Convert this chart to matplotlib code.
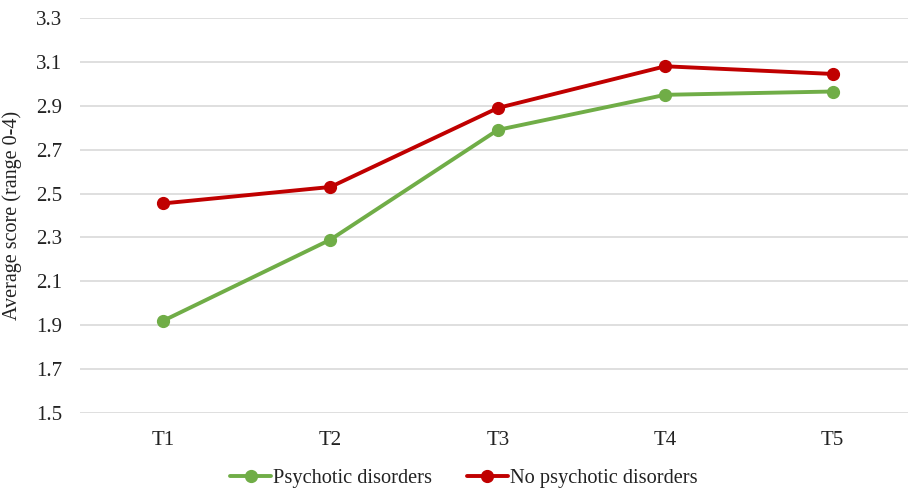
import matplotlib
matplotlib.use("Agg")
import matplotlib.pyplot as plt

categories = ["T1", "T2", "T3", "T4", "T5"]
psychotic = [1.92, 2.29, 2.79, 2.95, 2.965]
no_psychotic = [2.455, 2.53, 2.89, 3.08, 3.045]
yticks = [1.5, 1.7, 1.9, 2.1, 2.3, 2.5, 2.7, 2.9, 3.1, 3.3]

plt.rcParams['font.family'] = ['Liberation Serif', 'DejaVu Serif']

fig = plt.figure(figsize=(9.08, 4.90), dpi=100)
ax = fig.add_axes([80/908, 1-413/490, 1-80/908, (413-18)/490])

x = list(range(len(categories)))
ax.plot(x, psychotic, color="#70AD47", lw=2.8, marker="o", ms=8.5,
        label="Psychotic disorders", solid_capstyle="round")
ax.plot(x, no_psychotic, color="#C00000", lw=2.8, marker="o", ms=8.5,
        label="No psychotic disorders", solid_capstyle="round")

ax.set_xlim(-0.496, 4.45)
ax.set_ylim(1.5, 3.3)
ax.set_yticks(yticks)
ax.set_yticklabels([f"{v:.1f}" for v in yticks])
ax.set_xticks(x)
ax.set_xticklabels(categories)
ax.tick_params(axis="both", length=0, labelsize=15, colors="#222222")
ax.tick_params(axis="y", pad=13)
ax.tick_params(axis="x", pad=13)
ax.grid(axis="y", color="#D9D9D9", lw=1.2)
ax.set_axisbelow(True)
for s in ax.spines.values():
    s.set_visible(False)
ax.set_ylabel("Average score (range 0-4)", fontsize=14.5, color="#222222")
ax.yaxis.set_label_coords(-58/828, 0.5)

fig.legend(loc="center", bbox_to_anchor=(0.5 + 10/908, 1-478/490), ncol=2, frameon=False,
           fontsize=14.7, handlelength=2.0, handletextpad=0.1, columnspacing=1.7,
           labelcolor="#222222")

fig.savefig("out.png", dpi=100)
